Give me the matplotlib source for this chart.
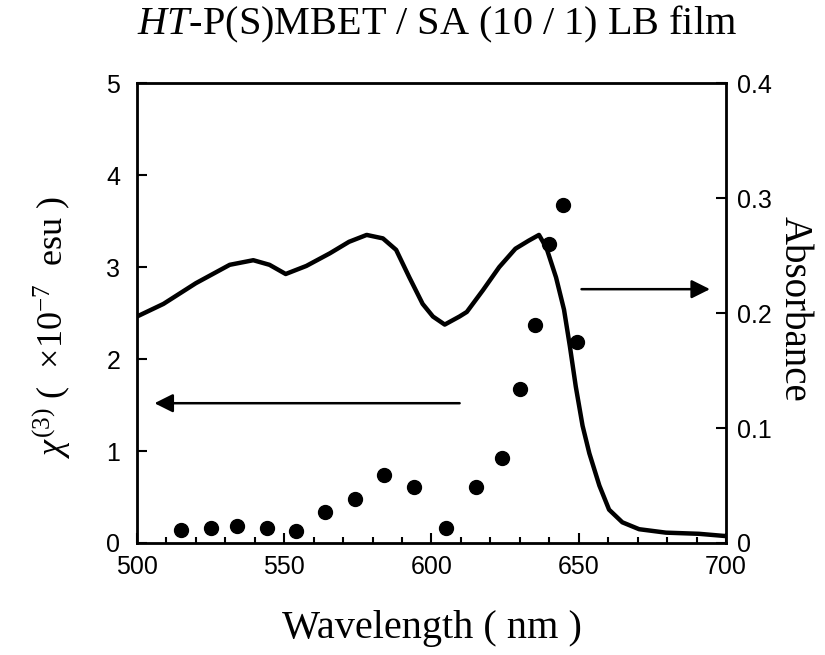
import numpy as np
import matplotlib.pyplot as plt
from matplotlib.ticker import MultipleLocator

plt.rcParams['font.family'] = ['Liberation Serif', 'DejaVu Serif']
plt.rcParams['mathtext.fontset'] = 'custom'
plt.rcParams['mathtext.rm'] = 'Liberation Serif'
plt.rcParams['mathtext.it'] = 'Liberation Serif:italic'

# chi(3) points
chi_wavelength = [515, 525, 534, 544, 554, 564, 574, 584, 594, 605, 615, 624, 630, 635, 640, 644.5, 649.5]
chi_value = [0.14, 0.16, 0.19, 0.16, 0.13, 0.34, 0.48, 0.74, 0.61, 0.16, 0.61, 0.92, 1.67, 2.37, 3.25, 3.68, 2.19]

# absorbance spectrum
abs_wavelength = [500, 509, 520, 531.5, 539.5, 545, 550.5, 557.5, 565.5, 572, 578, 583.5, 588, 592.5,
                  597, 600.5, 604.5, 609.5, 612, 617.5, 623, 628.5, 633, 636.5, 639, 642.3, 645, 647,
                  649, 651.3, 653.6, 657, 660.3, 664.8, 670.5, 679.6, 690.8, 700]
absorbance = [0.197, 0.208, 0.226, 0.242, 0.246, 0.242, 0.234, 0.241, 0.252, 0.262, 0.268, 0.265, 0.255, 0.231,
              0.208, 0.197, 0.190, 0.197, 0.201, 0.220, 0.240, 0.256, 0.263, 0.268, 0.257, 0.231, 0.203, 0.171,
              0.136, 0.102, 0.078, 0.050, 0.029, 0.018, 0.012, 0.009, 0.008, 0.006]

tick_font = ['Liberation Sans Narrow', 'Liberation Sans', 'DejaVu Sans']

fig = plt.figure(figsize=(8.25, 6.55), dpi=100)
ax = fig.add_axes([0.166, 0.171, 0.714, 0.702])
ax2 = ax.twinx()

ax.plot(chi_wavelength, chi_value, 'o', color='black', markersize=10, zorder=3)
ax2.plot(abs_wavelength, absorbance, '-', color='black', linewidth=3.2)

ax.set_xlim(500, 700)
ax.set_ylim(0, 5)
ax2.set_ylim(0, 0.4)

ax.xaxis.set_major_locator(MultipleLocator(50))
ax.xaxis.set_minor_locator(MultipleLocator(10))
ax.yaxis.set_major_locator(MultipleLocator(1))
ax2.yaxis.set_major_locator(MultipleLocator(0.1))

ax.tick_params(which='both', direction='in', top=False, width=1.5)
ax.tick_params(which='major', length=7)
ax.tick_params(which='minor', length=4)
ax2.tick_params(direction='in', length=7, width=1.5)
for spine in ax.spines.values():
    spine.set_linewidth(2)

ax.set_xticks([500, 550, 600, 650, 700])
ax.set_xticklabels(['500', '550', '600', '650', '700'], family=tick_font, fontsize=18)
ax.set_yticks([0, 1, 2, 3, 4, 5])
ax.set_yticklabels(['0', '1', '2', '3', '4', '5'], family=tick_font, fontsize=18)
ax2.set_yticks([0, 0.1, 0.2, 0.3, 0.4])
ax2.set_yticklabels(['0', '0.1', '0.2', '0.3', '0.4'], family=tick_font, fontsize=18)
ax.tick_params(axis='x', pad=9)
ax.tick_params(axis='y', pad=12)
ax2.tick_params(axis='y', pad=8)

fig.text(0.53, 1 - 34 / 655, r'$\mathit{HT}$-P(S)MBET / SA (10 / 1) LB film', fontsize=29,
         ha='center', va='baseline')
ax.set_xlabel('Wavelength ( nm )', fontsize=29, labelpad=22)
ax.set_ylabel(r'$\chi^{(3)}$ (  $\times$10$^{-7}$  esu )', fontsize=26)
ax.yaxis.set_label_coords(-0.108, 0.47)
ax2.set_ylabel('Absorbance', fontsize=28, rotation=-90, va='center')
ax2.yaxis.set_label_coords(1.115, 0.51)

# direction arrows
ax.annotate('', xy=(505, 1.52), xytext=(610.5, 1.52),
            arrowprops=dict(arrowstyle='-|>', color='black', lw=1.8, mutation_scale=28))
ax.annotate('', xy=(695.5, 2.76), xytext=(650, 2.76),
            arrowprops=dict(arrowstyle='-|>', color='black', lw=1.8, mutation_scale=28))

fig.savefig('out.png', dpi=100)
